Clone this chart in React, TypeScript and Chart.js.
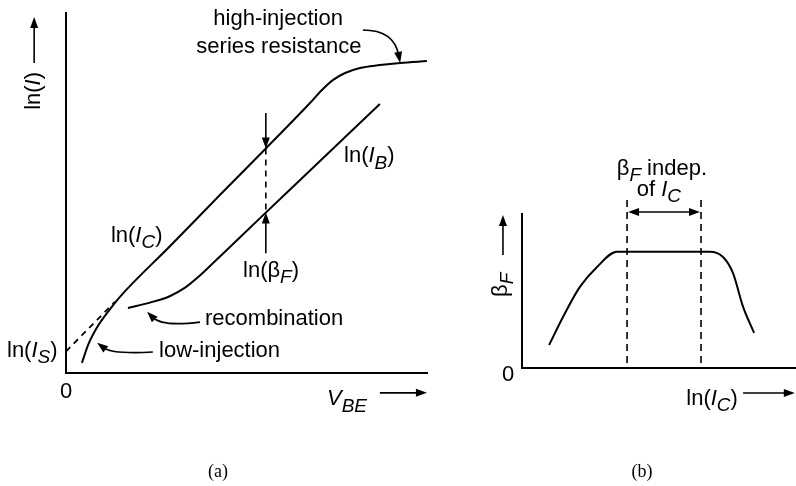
import React, { useEffect, useRef } from "react";
import { Chart, registerables } from "chart.js";

Chart.register(...registerables);

// (a) Gummel plot: ln(I) versus V_BE (arbitrary units)
const vbeIC = [0.44, 0.62, 0.88, 1.18, 1.49, 2.87, 4.25, 5.5, 6.74, 7.07, 7.38, 7.71, 8.12, 8.67, 9.23, 9.97];
const lnIC = [0.28, 0.8, 1.3, 1.72, 2.11, 3.51, 4.93, 6.2, 7.48, 7.84, 8.12, 8.31, 8.45, 8.53, 8.59, 8.64];
const vbeIB = [1.71, 2.32, 2.85, 3.3, 3.7, 4.1, 4.6, 5.36, 6.46, 8.67];
const lnIB = [1.8, 1.95, 2.12, 2.37, 2.7, 3.08, 3.56, 4.29, 5.34, 7.45];
const vbeIS = [0, 1.35];
const lnIS = [0.6, 1.97];
const betaMarkVbe = 5.52;

// (b) beta_F versus ln(I_C)
const lnICb = [1.01, 1.53, 2.16, 2.8, 3.54, 7.01, 7.5, 7.87, 8.25, 8.66];
const betaF = [1.48, 3.29, 5.23, 6.52, 7.5, 7.5, 7.16, 6.13, 3.94, 2.26];
const indepRange = [3.92, 6.68];

const FONT = '"Liberation Sans", Arial, Helvetica, sans-serif';
const SERIF = '"Liberation Serif", "Times New Roman", serif';
const SIZE = 22;

type Seg = { t: string; it?: boolean; sub?: boolean };

const toXY = (xs: number[], ys: number[]) => xs.map((x, i) => ({ x, y: ys[i] }));

function interp(xs: number[], ys: number[], x: number) {
  for (let i = 0; i < xs.length - 1; i++) {
    if (x >= xs[i] && x <= xs[i + 1]) {
      const f = (x - xs[i]) / (xs[i + 1] - xs[i]);
      return ys[i] + f * (ys[i + 1] - ys[i]);
    }
  }
  return ys[ys.length - 1];
}

function segFont(s: Seg, size: number) {
  const sz = s.sub ? Math.round(size * 0.85) : size;
  return `${s.it ? "italic " : ""}${sz}px ${FONT}`;
}

function richWidth(ctx: CanvasRenderingContext2D, segs: Seg[], size: number) {
  let w = 0;
  for (const s of segs) {
    ctx.font = segFont(s, size);
    w += ctx.measureText(s.t).width;
  }
  return w;
}

function drawRich(
  ctx: CanvasRenderingContext2D,
  segs: Seg[],
  x: number,
  y: number,
  align: "left" | "center" = "left",
  size = SIZE
) {
  let cx = align === "center" ? x - richWidth(ctx, segs, size) / 2 : x;
  ctx.textAlign = "left";
  ctx.textBaseline = "alphabetic";
  ctx.fillStyle = "#000";
  for (const s of segs) {
    ctx.font = segFont(s, size);
    ctx.fillText(s.t, cx, y + (s.sub ? size * 0.29 : 0));
    cx += ctx.measureText(s.t).width;
  }
}

function head(ctx: CanvasRenderingContext2D, tx: number, ty: number, ang: number, len = 11, half = 4) {
  ctx.save();
  ctx.translate(tx, ty);
  ctx.rotate(ang);
  ctx.beginPath();
  ctx.moveTo(0, 0);
  ctx.lineTo(-len, -half);
  ctx.lineTo(-len, half);
  ctx.closePath();
  ctx.fillStyle = "#000";
  ctx.fill();
  ctx.restore();
}

function arrow(ctx: CanvasRenderingContext2D, x1: number, y1: number, x2: number, y2: number) {
  const ang = Math.atan2(y2 - y1, x2 - x1);
  ctx.beginPath();
  ctx.moveTo(x1, y1);
  ctx.lineTo(x2 - Math.cos(ang) * 9, y2 - Math.sin(ang) * 9);
  ctx.stroke();
  head(ctx, x2, y2, ang);
}

function curvedArrow(
  ctx: CanvasRenderingContext2D,
  sx: number,
  sy: number,
  cx: number,
  cy: number,
  tx: number,
  ty: number
) {
  const ang = Math.atan2(ty - cy, tx - cx);
  ctx.beginPath();
  ctx.moveTo(sx, sy);
  ctx.quadraticCurveTo(cx, cy, tx - Math.cos(ang) * 8, ty - Math.sin(ang) * 8);
  ctx.stroke();
  head(ctx, tx, ty, ang);
}

const lnI = (sub: string): Seg[] => [{ t: "ln(" }, { t: "I", it: true }, { t: sub, it: true, sub: true }, { t: ")" }];

const gummelDecor = {
  id: "gummelDecor",
  afterDraw(chart: any) {
    const ctx: CanvasRenderingContext2D = chart.ctx;
    const X = (v: number) => chart.scales.x.getPixelForValue(v);
    const Y = (v: number) => chart.scales.y.getPixelForValue(v);
    ctx.save();
    ctx.strokeStyle = "#000";
    ctx.lineCap = "butt";

    // axes
    ctx.lineWidth = 2;
    ctx.beginPath();
    ctx.moveTo(X(0), Y(10));
    ctx.lineTo(X(0), Y(0));
    ctx.lineTo(X(10), Y(0));
    ctx.stroke();

    // ln(beta_F) separation between the two currents
    const yc = interp(vbeIC, lnIC, betaMarkVbe);
    const yb = interp(vbeIB, lnIB, betaMarkVbe);
    ctx.lineWidth = 1.6;
    ctx.setLineDash([6, 5]);
    ctx.beginPath();
    ctx.moveTo(X(betaMarkVbe), Y(yc));
    ctx.lineTo(X(betaMarkVbe), Y(yb));
    ctx.stroke();
    ctx.setLineDash([]);
    arrow(ctx, X(betaMarkVbe), Y(7.2), X(betaMarkVbe), Y(yc));
    arrow(ctx, X(betaMarkVbe), Y(3.32), X(betaMarkVbe), Y(yb));

    // callouts
    curvedArrow(ctx, X(8.2), Y(9.5), X(9.06), Y(9.5), X(9.23), Y(interp(vbeIC, lnIC, 9.23)));
    curvedArrow(ctx, X(3.7), Y(1.41), X(2.65), Y(1.28), X(2.24), Y(1.7));
    curvedArrow(ctx, X(2.4), Y(0.58), X(1.27), Y(0.52), X(0.86), Y(0.84));

    // labels
    drawRich(ctx, [{ t: "high-injection" }], X(5.86), Y(9.64), "center");
    drawRich(ctx, [{ t: "series resistance" }], X(5.88), Y(8.86), "center");
    drawRich(ctx, lnI("B"), X(7.68), Y(5.84));
    drawRich(ctx, lnI("C"), X(1.24), Y(3.63));
    drawRich(ctx, [{ t: "ln(β" }, { t: "F", it: true, sub: true }, { t: ")" }], X(4.89), Y(2.66));
    drawRich(ctx, lnI("S"), X(-1.63), Y(0.44));
    drawRich(ctx, [{ t: "low-injection" }], X(2.57), Y(0.44));
    drawRich(ctx, [{ t: "recombination" }], X(3.84), Y(1.33));
    drawRich(ctx, [{ t: "0" }], X(0), Y(-0.69), "center");

    // x axis title
    drawRich(ctx, [{ t: "V", it: true }, { t: "BE", it: true, sub: true }], X(7.21), Y(-0.89));
    ctx.lineWidth = 1.6;
    arrow(ctx, X(8.67), Y(-0.55), X(9.97), Y(-0.55));

    // y axis title
    ctx.save();
    ctx.translate(X(-0.72), Y(7.29));
    ctx.rotate(-Math.PI / 2);
    drawRich(ctx, [{ t: "ln(" }, { t: "I", it: true }, { t: ")" }], 0, 0);
    ctx.restore();
    arrow(ctx, X(-0.88), Y(8.59), X(-0.88), Y(9.86));

    // panel caption
    ctx.font = `18px ${SERIF}`;
    ctx.textAlign = "center";
    ctx.textBaseline = "alphabetic";
    ctx.fillStyle = "#000";
    ctx.fillText("(a)", 218, 477);
    ctx.restore();
  },
};

const betaDecor = {
  id: "betaDecor",
  afterDraw(chart: any) {
    const ctx: CanvasRenderingContext2D = chart.ctx;
    const X = (v: number) => chart.scales.x.getPixelForValue(v);
    const Y = (v: number) => chart.scales.y.getPixelForValue(v);
    ctx.save();
    ctx.strokeStyle = "#000";

    // axes
    ctx.lineWidth = 2;
    ctx.beginPath();
    ctx.moveTo(X(0), Y(10));
    ctx.lineTo(X(0), Y(0));
    ctx.lineTo(X(10.3), Y(0));
    ctx.stroke();

    // region where beta_F is flat
    ctx.lineWidth = 1.6;
    ctx.setLineDash([7, 5]);
    for (const v of indepRange) {
      ctx.beginPath();
      ctx.moveTo(X(v), Y(10.84));
      ctx.lineTo(X(v), Y(0));
      ctx.stroke();
    }
    ctx.setLineDash([]);
    const ya = Y(10.06);
    ctx.beginPath();
    ctx.moveTo(X(indepRange[0]) + 9, ya);
    ctx.lineTo(X(indepRange[1]) - 9, ya);
    ctx.stroke();
    head(ctx, X(indepRange[0]) + 1, ya, Math.PI);
    head(ctx, X(indepRange[1]) - 1, ya, 0);

    drawRich(ctx, [{ t: "β" }, { t: "F", it: true, sub: true }, { t: " indep." }], X(5.22), Y(12.45), "center");
    drawRich(ctx, [{ t: "of " }, { t: "I", it: true }, { t: "C", it: true, sub: true }], X(5.11), Y(11.1), "center");
    drawRich(ctx, [{ t: "0" }], X(-0.52), Y(-0.84), "center");

    // x axis title
    drawRich(ctx, lnI("C"), X(6.13), Y(-2.39));
    arrow(ctx, X(8.25), Y(-1.61), X(10.18), Y(-1.61));

    // y axis title
    ctx.save();
    ctx.translate(X(-0.56), Y(4.58));
    ctx.rotate(-Math.PI / 2);
    drawRich(ctx, [{ t: "β" }, { t: "F", it: true, sub: true }], 0, 0);
    ctx.restore();
    arrow(ctx, X(-0.71), Y(7.29), X(-0.71), Y(9.87));

    ctx.font = `18px ${SERIF}`;
    ctx.textAlign = "center";
    ctx.textBaseline = "alphabetic";
    ctx.fillStyle = "#000";
    ctx.fillText("(b)", 172, 477);
    ctx.restore();
  },
};

const hiddenScales = (xmax: number, ymax: number) => ({
  x: { type: "linear" as const, min: 0, max: xmax, display: false },
  y: { type: "linear" as const, min: 0, max: ymax, display: false },
});

const lineStyle = {
  borderColor: "#000",
  borderWidth: 2,
  pointRadius: 0,
  fill: false,
  cubicInterpolationMode: "monotone" as const,
  clip: false as const,
};

export default function App() {
  const refA = useRef<HTMLCanvasElement>(null);
  const refB = useRef<HTMLCanvasElement>(null);

  useEffect(() => {
    const a = new Chart(refA.current!, {
      type: "line",
      data: {
        datasets: [
          { label: "ln(IC)", data: toXY(vbeIC, lnIC), ...lineStyle },
          { label: "ln(IB)", data: toXY(vbeIB, lnIB), ...lineStyle },
          { label: "ln(IS) extrapolation", data: toXY(vbeIS, lnIS), ...lineStyle, borderWidth: 1.8, borderDash: [6, 5] },
        ],
      },
      options: {
        responsive: false,
        animation: false,
        devicePixelRatio: 1,
        layout: { padding: { left: 66, right: 42, top: 12, bottom: 113 } },
        scales: hiddenScales(10, 10),
        plugins: { legend: { display: false }, tooltip: { enabled: false } },
        events: [],
      },
      plugins: [gummelDecor],
    });

    const b = new Chart(refB.current!, {
      type: "line",
      data: {
        datasets: [{ label: "βF", data: toXY(lnICb, betaF), ...lineStyle }],
      },
      options: {
        responsive: false,
        animation: false,
        devicePixelRatio: 1,
        layout: { padding: { left: 52, right: 6, top: 151, bottom: 118 } },
        scales: hiddenScales(10, 14),
        plugins: { legend: { display: false }, tooltip: { enabled: false } },
        events: [],
      },
      plugins: [betaDecor],
    });

    return () => {
      a.destroy();
      b.destroy();
    };
  }, []);

  return (
    <div style={{ position: "fixed", left: 0, top: 0, width: 796, height: 486, background: "#fff" }}>
      <canvas ref={refA} width={470} height={486} style={{ position: "absolute", left: 0, top: 0, width: 470, height: 486 }} />
      <canvas ref={refB} width={326} height={486} style={{ position: "absolute", left: 470, top: 0, width: 326, height: 486 }} />
    </div>
  );
}
